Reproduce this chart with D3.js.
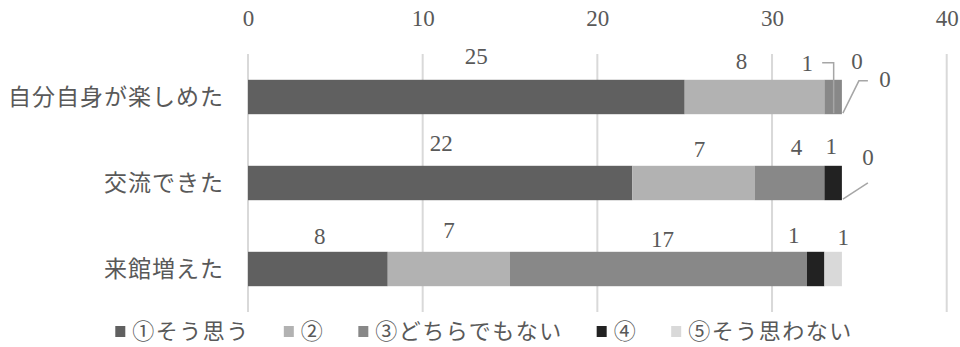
<!DOCTYPE html>
<html>
<head>
<meta charset="utf-8">
<script src="https://cdn.jsdelivr.net/npm/d3@7"></script>
<style>
  html, body { margin: 0; padding: 0; background: #fff; }
  svg { display: block; }
  .num { font-family: "Liberation Serif", "DejaVu Serif", serif; fill: #595959; }
  .jp { font-family: "Noto Sans CJK JP", sans-serif; fill: #595959; }
</style>
</head>
<body>
<svg id="chart" width="960" height="347"></svg>
<script>
// Survey answers per question, stacked by answer level
const categories = ["自分自身が楽しめた", "交流できた", "来館増えた"];
const seriesNames = ["①そう思う", "②", "③どちらでもない", "④", "⑤そう思わない"];
const answer1 = [25, 22, 8];
const answer2 = [8, 7, 7];
const answer3 = [1, 4, 17];
const answer4 = [0, 1, 1];
const answer5 = [0, 0, 1];
const xTicks = [0, 10, 20, 30, 40];

const seriesValues = [answer1, answer2, answer3, answer4, answer5];
const colors = ["#606060", "#b2b2b2", "#888888", "#222222", "#d9d9d9"];

// Nudges for the value labels (dx, dy from the top-centre of each segment), per row then series
const labelNudge = [
  [[10, -24], [-13, -19], [-26, -17], [15, -19], [43, -1]],
  [[1, -23], [6, -17], [7, -19], [-2, -20], [26, -9]],
  [[2, -16], [0, -22], [4, -13], [-22, -17], [10, -15]]
];
// Leader lines: [row, series]
const leaders = [[0, 2], [0, 4], [1, 4]];

const svg = d3.select("#chart");
const x = d3.scaleLinear().domain([0, 40]).range([248, 946.7]);
const y = d3.scaleBand().domain(categories).range([54, 312])
  .paddingInner(0.6).paddingOuter(0.3);

// rows of stacked segments
const table = categories.map((c, i) => {
  const row = { category: c };
  seriesNames.forEach((s, j) => row[s] = seriesValues[j][i]);
  return row;
});
const stacked = d3.stack().keys(seriesNames)(table);

// vertical gridlines
svg.append("g").selectAll("line").data(xTicks).join("line")
  .attr("x1", d => x(d)).attr("x2", d => x(d))
  .attr("y1", 54).attr("y2", 312)
  .attr("stroke", "#d9d9d9").attr("stroke-width", 2);

// top axis labels
const axis = d3.axisTop(x).tickValues(xTicks).tickSize(0).tickPadding(0);
const gAxis = svg.append("g").attr("transform", "translate(0,26)").call(axis);
gAxis.select(".domain").remove();
gAxis.selectAll("text").attr("class", "num").attr("font-size", 23).attr("fill", "#595959");

// bars
svg.append("g").selectAll("g").data(stacked).join("g")
  .attr("fill", (d, i) => colors[i])
  .selectAll("rect").data(d => d).join("rect")
  .attr("x", d => x(d[0]))
  .attr("width", d => x(d[1]) - x(d[0]))
  .attr("y", d => y(d.data.category))
  .attr("height", y.bandwidth());

// category labels
svg.append("g").selectAll("text").data(categories).join("text")
  .attr("class", "jp")
  .attr("x", 224)
  .attr("y", d => y(d) + y.bandwidth() / 2)
  .attr("dy", "0.36em")
  .attr("text-anchor", "end")
  .attr("font-size", 23)
  .attr("letter-spacing", 1)
  .text(d => d);

// value labels
const labels = [];
stacked.forEach((layer, j) => {
  layer.forEach((seg, i) => {
    const cx = x((seg[0] + seg[1]) / 2);
    const top = y(categories[i]);
    const [dx, dy] = labelNudge[i][j];
    labels.push({ row: i, series: j, value: seg[1] - seg[0], cx, top, lx: cx + dx, ly: top + dy });
  });
});

// leader lines
const lineG = svg.append("g").attr("fill", "none").attr("stroke", "#a6a6a6").attr("stroke-width", 1.5);
leaders.forEach(([r, s]) => {
  const L = labels.find(l => l.row === r && l.series === s);
  const bottom = L.top + y.bandwidth();
  if (r === 0 && s === 2) {
    lineG.append("path").attr("d",
      `M${L.lx + 15},${L.ly} H${L.cx + 0.5} V${bottom - 1}`);
  } else if (r === 0 && s === 4) {
    lineG.append("path").attr("d",
      `M${L.cx + 1},${bottom - 1} L${L.lx - 26},${L.ly + 2} H${L.lx - 17}`);
  } else {
    lineG.append("path").attr("d",
      `M${L.cx + 1},${bottom - 1} L${L.lx},${L.ly + 26}`);
  }
});

svg.append("g").selectAll("text").data(labels).join("text")
  .attr("class", "num")
  .attr("x", d => d.lx)
  .attr("y", d => d.ly)
  .attr("dy", "0.35em")
  .attr("text-anchor", "middle")
  .attr("font-size", 23)
  .text(d => d.value);

// legend
const legend = svg.append("g");
let cursor = 0;
seriesNames.forEach((name, i) => {
  const item = legend.append("g").attr("transform", `translate(${cursor},0)`);
  item.append("rect").attr("x", 0).attr("y", -5).attr("width", 10).attr("height", 11)
    .attr("fill", colors[i]);
  const t = item.append("text").attr("class", "jp").attr("x", 17).attr("y", 0)
    .attr("dy", "0.36em").attr("font-size", 22).attr("letter-spacing", 1.5).text(name);
  cursor += 17 + t.node().getComputedTextLength() + 34;
});
const legendWidth = cursor - 34;
legend.attr("transform", `translate(${484 - legendWidth / 2},331)`);
</script>
</body>
</html>
